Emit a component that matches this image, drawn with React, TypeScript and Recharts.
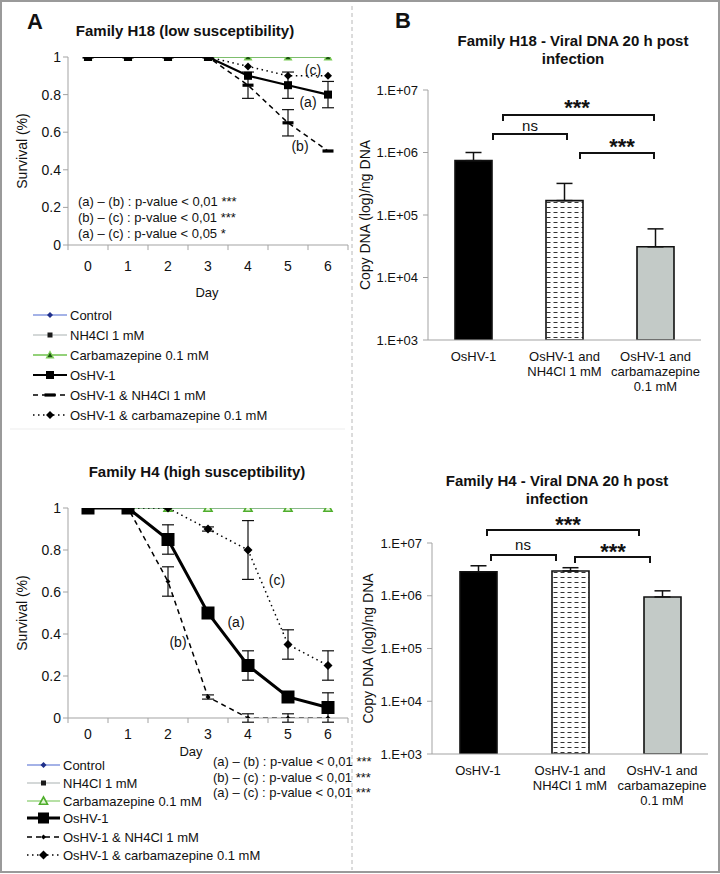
import React from "react";
import {
  LineChart, Line, XAxis, YAxis, ErrorBar, ReferenceLine, BarChart, Bar, Cell,
} from "recharts";

const FONT = '"Liberation Sans", Arial, sans-serif';
const GRAY = "#a3a3a3";
const INK = "#111";

const days = [0, 1, 2, 3, 4, 5, 6];
const dayMarks = [-0.5, 0.5, 1.5, 2.5, 3.5, 4.5, 5.5, 6.5];
const survivalTicks = [0, 0.2, 0.4, 0.6, 0.8, 1];

// Family H18 survival
const h18Control = [1, 1, 1, 1, 1, 1, 1];
const h18Nh4cl = [1, 1, 1, 1, 1, 1, 1];
const h18Carba = [1, 1, 1, 1, 1, 1, 1];
const h18Oshv = [1, 1, 1, 1, 0.9, 0.85, 0.8];
const h18OshvErr = [null, null, null, null, null, 0.07, 0.07];
const h18OshvNh4cl = [1, 1, 1, 1, 0.85, 0.65, 0.5];
const h18OshvNh4clErr = [null, null, null, null, 0.07, 0.07, null];
const h18OshvCarba = [1, 1, 1, 1, 0.95, 0.9, 0.9];
const h18OshvCarbaErr = [null, null, null, null, null, null, null];

// Family H4 survival
const h4Control = [1, 1, 1, 1, 1, 1, 1];
const h4Nh4cl = [1, 1, 1, 1, 1, 1, 1];
const h4Carba = [1, 1, 1, 1, 1, 1, 1];
const h4Oshv = [1, 1, 0.85, 0.5, 0.25, 0.1, 0.05];
const h4OshvErr = [null, null, 0.07, null, 0.07, null, 0.07];
const h4OshvNh4cl = [1, 1, 0.65, 0.1, 0, 0, 0];
const h4OshvNh4clErr = [null, null, 0.07, 0.01, 0.02, 0.02, null];
const h4OshvCarba = [1, 1, 1, 0.9, 0.8, 0.35, 0.25];
const h4OshvCarbaErr = [null, null, null, 0.01, 0.14, 0.07, 0.07];

// Viral DNA copies (bar value, top of error bar)
const treatments = ["OsHV-1", "OsHV-1 and\nNH4Cl 1 mM", "OsHV-1 and\ncarbamazepine\n0.1 mM"];
const h18Copies = [7.4e5, 1.7e5, 3.1e4];
const h18CopiesTop = [1.0e6, 3.2e5, 6.0e4];
const h4Copies = [2.85e6, 2.95e6, 9.5e5];
const h4CopiesTop = [3.7e6, 3.4e6, 1.24e6];
const copyTicks = [1e3, 1e4, 1e5, 1e6, 1e7];

const pValuesH18 = [
  "(a) \u2013 (b) : p-value < 0,01 ***",
  "(b) \u2013 (c) : p-value < 0,01 ***",
  "(a) \u2013 (c) : p-value < 0,05 *",
];
const pValuesH4 = [
  "(a) \u2013 (b) : p-value < 0,01 ***",
  "(b) \u2013 (c) : p-value < 0,01 ***",
  "(a) \u2013 (c) : p-value < 0,01 ***",
];

const buildRows = (c: any[], n: any[], cb: any[], o: any[], oe: any[], on: any[], one: any[], oc: any[], oce: any[]) =>
  days.map((day, i) => ({
    day,
    control: c[i],
    nh4cl: n[i],
    carba: cb[i],
    oshv: o[i],
    oshvErr: oe[i],
    oshvNh4cl: on[i],
    oshvNh4clErr: one[i],
    oshvCarba: oc[i],
    oshvCarbaErr: oce[i],
  }));

const h18Rows = buildRows(h18Control, h18Nh4cl, h18Carba, h18Oshv, h18OshvErr, h18OshvNh4cl, h18OshvNh4clErr, h18OshvCarba, h18OshvCarbaErr);
const h4Rows = buildRows(h4Control, h4Nh4cl, h4Carba, h4Oshv, h4OshvErr, h4OshvNh4cl, h4OshvNh4clErr, h4OshvCarba, h4OshvCarbaErr);

const buildCopyRows = (vals: number[], tops: number[]) =>
  treatments.map((name, i) => ({ name, value: vals[i], err: [0, tops[i] - vals[i]] }));

const h18CopyRows = buildCopyRows(h18Copies, h18CopiesTop);
const h4CopyRows = buildCopyRows(h4Copies, h4CopiesTop);

type Shape = "square" | "diamond" | "triangle" | "openTriangle" | "dash";
type Style = {
  key: string; err?: string; name: string; stroke: string; width: number; dash?: string;
  shape: Shape; size: number; fill: string; edge?: string; legendSize?: number;
};

const h18Styles: Style[] = [
  { key: "control", name: "Control", stroke: "#4a67cf", width: 1.2, shape: "diamond", size: 6, fill: "#1f2f8a" },
  { key: "nh4cl", name: "NH4Cl 1 mM", stroke: "#a9b2b2", width: 1.2, shape: "square", size: 5, fill: "#1a1a1a" },
  { key: "carba", name: "Carbamazepine 0.1 mM", stroke: "#6fc24c", width: 1.5, shape: "triangle", size: 7, fill: "#1d5412", edge: "#7fd05a" },
  { key: "oshv", err: "oshvErr", name: "OsHV-1", stroke: "#000", width: 2.2, shape: "square", size: 8, fill: "#000" },
  { key: "oshvNh4cl", err: "oshvNh4clErr", name: "OsHV-1 & NH4Cl 1 mM", stroke: "#000", width: 1.5, dash: "5 4", shape: "dash", size: 11, fill: "#000" },
  { key: "oshvCarba", err: "oshvCarbaErr", name: "OsHV-1 & carbamazepine 0.1 mM", stroke: "#000", width: 1.5, dash: "1.5 3.5", shape: "diamond", size: 8, fill: "#000" },
];

const h4Styles: Style[] = [
  { key: "control", name: "Control", stroke: "#4a67cf", width: 1.2, shape: "diamond", size: 6, fill: "#1f2f8a" },
  { key: "nh4cl", name: "NH4Cl 1 mM", stroke: "#a9b2b2", width: 1.2, shape: "square", size: 5, fill: "#1a1a1a" },
  { key: "carba", name: "Carbamazepine 0.1 mM", stroke: "#6fc24c", width: 1.2, shape: "openTriangle", size: 8, fill: "#e2f5d6", edge: "#4fae2c" },
  { key: "oshv", err: "oshvErr", name: "OsHV-1", stroke: "#000", width: 3, shape: "square", size: 13, fill: "#000", legendSize: 11 },
  { key: "oshvNh4cl", err: "oshvNh4clErr", name: "OsHV-1 & NH4Cl 1 mM", stroke: "#000", width: 1.5, dash: "5 4", shape: "diamond", size: 5, fill: "#000" },
  { key: "oshvCarba", err: "oshvCarbaErr", name: "OsHV-1 & carbamazepine 0.1 mM", stroke: "#000", width: 1.5, dash: "1.5 3.5", shape: "diamond", size: 9, fill: "#000" },
];

// series drawing order (black series on top)
const drawOrder = ["control", "nh4cl", "carba", "oshvNh4cl", "oshvCarba", "oshv"];

function Marker({ shape, x, y, size, fill, edge }: { shape: Shape; x: number; y: number; size: number; fill: string; edge?: string }) {
  const h = size / 2;
  if (shape === "square") return <rect x={x - h} y={y - h} width={size} height={size} fill={fill} />;
  if (shape === "diamond")
    return <polygon points={`${x},${y - h} ${x + h},${y} ${x},${y + h} ${x - h},${y}`} fill={fill} />;
  if (shape === "dash") return <rect x={x - h} y={y - 1.6} width={size} height={3.2} fill={fill} />;
  return (
    <polygon
      points={`${x},${y - h} ${x + h},${y + h * 0.8} ${x - h},${y + h * 0.8}`}
      fill={fill}
      stroke={edge}
      strokeWidth={shape === "openTriangle" ? 1.6 : 1.2}
    />
  );
}

const dotFor = (s: Style) => (p: any) => {
  if (p.cx == null || p.cy == null) return <g key={`d${p.index}`} />;
  return (
    <g key={`d${p.index}`}>
      <Marker shape={s.shape} x={p.cx} y={p.cy} size={s.size} fill={s.fill} edge={s.edge} />
    </g>
  );
};

function SurvivalChart({ rows, styles, top, height, marginTop, marginBottom, tickMargin, markDepth }: any) {
  const ordered = drawOrder.map((k) => styles.find((s: Style) => s.key === k));
  return (
    <div style={{ position: "absolute", left: 0, top, width: 360, height }}>
      <LineChart width={360} height={height} data={rows} margin={{ top: marginTop, right: 12, bottom: marginBottom, left: 0 }}>
        <XAxis
          dataKey="day"
          type="number"
          domain={[-0.5, 6.5]}
          ticks={days}
          tickLine={false}
          axisLine={{ stroke: GRAY }}
          tick={{ fill: INK, fontSize: 14 }}
          tickMargin={tickMargin}
          height={30}
        />
        <YAxis
          type="number"
          domain={[0, 1]}
          ticks={survivalTicks}
          allowDataOverflow
          width={68}
          tickSize={5}
          tickMargin={2}
          tickLine={{ stroke: GRAY }}
          axisLine={{ stroke: GRAY }}
          tick={{ fill: INK, fontSize: 14 }}
          label={{ value: "Survival (%)", angle: -90, position: "insideLeft", offset: 22, style: { textAnchor: "middle" }, fill: INK, fontSize: 14 }}
        />
        {dayMarks.map((m) => (
          <ReferenceLine key={m} segment={[{ x: m, y: 0 }, { x: m, y: -markDepth }]} stroke={GRAY} ifOverflow="visible" />
        ))}
        {ordered.map((s: Style) => (
          <Line
            key={s.key}
            dataKey={s.key}
            stroke={s.stroke}
            strokeWidth={s.width}
            strokeDasharray={s.dash}
            dot={dotFor(s)}
            activeDot={false}
            isAnimationActive={false}
          >
            {s.err ? <ErrorBar dataKey={s.err} width={6} stroke={INK} strokeWidth={1.2} direction="y" /> : null}
          </Line>
        ))}
      </LineChart>
    </div>
  );
}

const BarTick = (p: any) => {
  const lines = String(p.payload.value).split("\n");
  return (
    <text x={p.x} y={p.y} textAnchor="middle" fill={INK} fontSize={13}>
      {lines.map((l, i) => (
        <tspan key={i} x={p.x} dy={i === 0 ? 12.5 : 15}>{l}</tspan>
      ))}
    </text>
  );
};

const fmtCopy = (v: number) => `1.E+0${Math.round(Math.log10(v))}`;

function CopyChart({ rows, top, height, marginTop, marginBottom, yWidth, right, labelOffset, patternId }: any) {
  const fills = ["#000", `url(#${patternId})`, "#c3cac7"];
  return (
    <div style={{ position: "absolute", left: 350, top, width: 370, height }}>
      <BarChart width={370} height={height} data={rows} margin={{ top: marginTop, right, bottom: marginBottom, left: 0 }}>
        <defs>
          <pattern id={patternId} width="7" height="5" patternUnits="userSpaceOnUse">
            <rect width="7" height="5" fill="#fff" />
            <line x1="0.5" y1="2.5" x2="4.5" y2="2.5" stroke="#333" strokeWidth="1" />
          </pattern>
        </defs>
        <XAxis dataKey="name" tickLine={false} axisLine={{ stroke: GRAY }} interval={0} tick={<BarTick />} height={60} />
        <YAxis
          scale="log"
          type="number"
          domain={[1e3, 1e7]}
          allowDataOverflow
          ticks={copyTicks}
          tickFormatter={fmtCopy}
          width={yWidth}
          tickSize={5}
          tickMargin={5}
          tickLine={{ stroke: GRAY }}
          axisLine={{ stroke: GRAY }}
          tick={{ fill: INK, fontSize: 13 }}
          label={{ value: "Copy DNA (log)/ng DNA", angle: -90, position: "insideLeft", offset: labelOffset, style: { textAnchor: "middle" }, fill: INK, fontSize: 14 }}
        />
        <Bar dataKey="value" barSize={37} isAnimationActive={false}>
          {rows.map((r: any, i: number) => (
            <Cell key={r.name} fill={fills[i]} stroke="#111" strokeWidth={1.6} />
          ))}
          <ErrorBar dataKey="err" width={8} stroke={INK} strokeWidth={1.5} direction="y" />
        </Bar>
      </BarChart>
    </div>
  );
}

function Legend({ styles, rowsY, x0, x1, tx }: any) {
  const order = ["control", "nh4cl", "carba", "oshv", "oshvNh4cl", "oshvCarba"];
  return (
    <g>
      {order.map((k, i) => {
        const s = styles.find((t: Style) => t.key === k);
        const y = rowsY[i];
        const mx = (x0 + x1) / 2;
        return (
          <g key={k}>
            <line x1={x0} y1={y} x2={x1} y2={y} stroke={s.stroke} strokeWidth={s.width} strokeDasharray={s.dash} />
            <Marker shape={s.shape} x={mx} y={y} size={s.legendSize ?? s.size} fill={s.fill} edge={s.edge} />
            <text x={tx} y={y + 4.6} fontSize={13} fill={INK}>{s.name}</text>
          </g>
        );
      })}
    </g>
  );
}

function Bracket({ x1, x2, y, label, lx, ly, stars }: any) {
  return (
    <g>
      <path d={`M${x1},${y + 6} V${y} H${x2} V${y + 6}`} fill="none" stroke="#111" strokeWidth={2} />
      <text x={lx} y={ly} textAnchor="middle" fontSize={stars ? 22 : 15} fontWeight={stars ? "bold" : "normal"} fill={INK}>
        {label}
      </text>
    </g>
  );
}

export default function App() {
  return (
    <div style={{ position: "absolute", left: 0, top: 0, width: 720, height: 874, background: "#fff", fontFamily: FONT, overflow: "hidden" }}>
      <SurvivalChart rows={h18Rows} styles={h18Styles} top={0} height={300} marginTop={57} marginBottom={25} tickMargin={10} markDepth={0.027} />
      <SurvivalChart rows={h4Rows} styles={h4Styles} top={430} height={340} marginTop={78} marginBottom={22} tickMargin={5} markDepth={0.024} />
      <CopyChart rows={h18CopyRows} top={0} height={400} marginTop={90} marginBottom={0} yWidth={78} right={19} labelOffset={15} patternId="dashA" />
      <CopyChart rows={h4CopyRows} top={440} height={400} marginTop={103} marginBottom={26} yWidth={82} right={12} labelOffset={18} patternId="dashB" />

      <svg width={720} height={874} style={{ position: "absolute", left: 0, top: 0 }} fontFamily={FONT}>
        <rect x={1} y={1} width={718} height={871} fill="none" stroke="#9a9a9a" strokeWidth={2} />
        <line x1={352} y1={6} x2={352} y2={870} stroke="#b8b8b8" strokeDasharray="4 3" />
        <line x1={10} y1={429} x2={345} y2={429} stroke="#ededed" />

        <text x={35} y={29} textAnchor="middle" fontSize={22} fontWeight="bold" fill={INK}>A</text>
        <text x={403} y={28} textAnchor="middle" fontSize={22} fontWeight="bold" fill={INK}>B</text>

        <text x={185} y={36} textAnchor="middle" fontSize={15} fontWeight="bold" fill={INK}>Family H18 (low susceptibility)</text>
        <text x={197} y={477} textAnchor="middle" fontSize={15} fontWeight="bold" fill={INK}>Family H4 (high susceptibility)</text>
        <text x={573} y={46} textAnchor="middle" fontSize={15} fontWeight="bold" fill={INK}>Family H18 - Viral DNA 20 h post</text>
        <text x={573} y={64} textAnchor="middle" fontSize={15} fontWeight="bold" fill={INK}>infection</text>
        <text x={557} y={486} textAnchor="middle" fontSize={15} fontWeight="bold" fill={INK}>Family H4 - Viral DNA 20 h post</text>
        <text x={557} y={504} textAnchor="middle" fontSize={15} fontWeight="bold" fill={INK}>infection</text>

        <text x={207} y={297} textAnchor="middle" fontSize={13} fill={INK}>Day</text>
        <text x={191} y={756} textAnchor="middle" fontSize={13} fill={INK}>Day</text>

        {pValuesH18.map((t, i) => (
          <text key={t} x={78} y={206 + i * 16} fontSize={13} fill={INK}>{t}</text>
        ))}
        {pValuesH4.map((t, i) => (
          <text key={t + i} x={213} y={766 + i * 15.5} fontSize={13} fill={INK}>{t}</text>
        ))}

        <text x={313} y={75} textAnchor="middle" fontSize={14} fill={INK}>(c)</text>
        <text x={308} y={107} textAnchor="middle" fontSize={14} fill={INK}>(a)</text>
        <text x={300} y={151} textAnchor="middle" fontSize={14} fill={INK}>(b)</text>
        <text x={277} y={585} textAnchor="middle" fontSize={14} fill={INK}>(c)</text>
        <text x={236} y={627} textAnchor="middle" fontSize={14} fill={INK}>(a)</text>
        <text x={178} y={647} textAnchor="middle" fontSize={14} fill={INK}>(b)</text>

        <Bracket x1={503} x2={654} y={115} label="***" lx={577} ly={115} stars />
        <Bracket x1={493} x2={567} y={134} label="ns" lx={530} ly={131} />
        <Bracket x1={580} x2={654} y={153} label="***" lx={622} ly={154} stars />

        <Bracket x1={487} x2={639} y={530} label="***" lx={568} ly={532} stars />
        <Bracket x1={491} x2={556} y={555} label="ns" lx={523} ly={550} />
        <Bracket x1={575} x2={650} y={557} label="***" lx={613} ly={559} stars />

        <Legend styles={h18Styles} rowsY={[315, 335, 355, 375, 395, 415]} x0={33} x1={67} tx={70} />
        <Legend styles={h4Styles} rowsY={[765, 783, 801, 818, 837, 855]} x0={27} x1={60} tx={63} />
      </svg>
    </div>
  );
}
